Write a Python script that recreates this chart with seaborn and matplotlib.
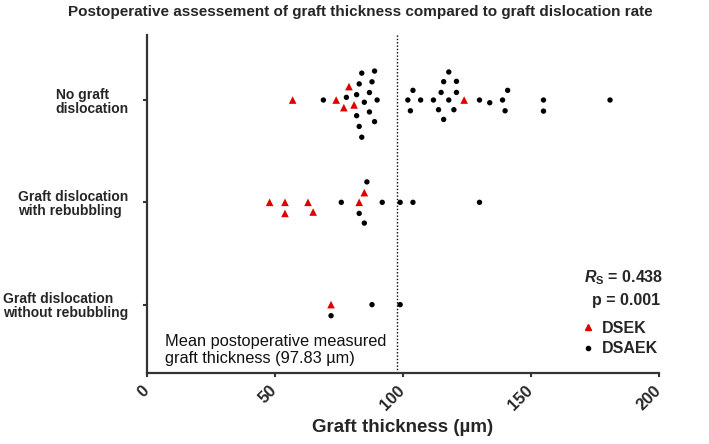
import matplotlib
matplotlib.use('Agg')
import matplotlib.pyplot as plt
import seaborn as sns
import numpy as np
import pandas as pd
from matplotlib.lines import Line2D
from matplotlib.markers import MarkerStyle

sns.set_theme(style='ticks')
plt.rcParams['font.family'] = ['Liberation Sans', 'DejaVu Sans']
plt.rcParams['mathtext.fontset'] = 'custom'
plt.rcParams['mathtext.it'] = 'Liberation Sans:italic:bold'
plt.rcParams['mathtext.rm'] = 'Liberation Sans:bold'

# data (graft thickness in um)
groups = ['No graft\ndislocation',
          'Graft dislocation\nwith rebubbling',
          'Graft dislocation\nwithout rebubbling']
no_disloc_dsek = [57, 74, 77, 79, 81, 124]
no_disloc_dsaek = [69, 78, 82, 82, 83, 83, 84, 84, 85, 87, 87, 88, 89, 89, 90,
                   102, 103, 104, 107, 112, 114, 115, 116, 116, 118, 118, 120,
                   121, 121, 130, 134, 139, 140, 141, 155, 155, 181]
rebub_dsek = [48, 54, 54, 63, 65, 83, 85]
rebub_dsaek = [76, 83, 85, 86, 92, 99, 104, 130]
norebub_dsek = [72]
norebub_dsaek = [72, 88, 99]
mean_thickness = 97.83
rs_value = 0.438
p_value = 0.001
x_ticks = [0, 50, 100, 150, 200]

colors = {'DSEK': '#e00000', 'DSAEK': 'black'}

rows = []
for grp, dsek, dsaek in zip(groups,
                            [no_disloc_dsek, rebub_dsek, norebub_dsek],
                            [no_disloc_dsaek, rebub_dsaek, norebub_dsaek]):
    rows += [(grp, 'DSEK', v) for v in dsek]
    rows += [(grp, 'DSAEK', v) for v in dsaek]
df = pd.DataFrame(rows, columns=['group', 'type', 'thickness'])

fig = plt.figure(figsize=(7.09, 4.44), dpi=100)
ax = fig.add_axes([0.207, 0.160, 0.722, 0.761])

# swarm with a wider spacing than the final marker size
sns.swarmplot(data=df, x='thickness', y='group', hue='type', order=groups,
              palette=colors, size=7.6, linewidth=0, legend=False, ax=ax)
ax.set_xlim(0, 200)
ax.set_ylim(2.668, -0.635)
fig.canvas.draw()

# freeze the swarm positions, then shrink markers and use triangles for DSEK
tri = MarkerStyle('^')
tri_path = tri.get_path().transformed(tri.get_transform())
dot = MarkerStyle('o')
dot_path = dot.get_path().transformed(dot.get_transform())
for coll in ax.collections:
    if 'draw' in coll.__dict__:
        del coll.draw
    is_tri = coll.get_facecolors()[:, 0] > 0.5
    coll.set_paths([tri_path if t else dot_path for t in is_tri])
    coll.set_sizes(np.where(is_tri, 30, 15))

ax.axvline(mean_thickness, color='black', linestyle=(0, (1, 1.4)), linewidth=1.0)

sns.despine(ax=ax)
for side in ['left', 'bottom']:
    ax.spines[side].set_linewidth(1.6)
    ax.spines[side].set_color('#333333')
ax.tick_params(axis='both', direction='out', length=3, width=1.5, color='#333333')
ax.tick_params(axis='y', pad=10)
ax.tick_params(axis='x', pad=8)

ax.set_xticks(x_ticks)
ax.set_xticklabels([str(t) for t in x_ticks], rotation=45, ha='right', va='center',
                   rotation_mode='anchor', fontsize=12, fontweight='bold')
ax.set_yticks(range(len(groups)))
ax.set_yticklabels(groups, fontsize=10, fontweight='bold',
                   multialignment='left', linespacing=1.0)

ax.set_ylabel('')
ax.set_xlabel('Graft thickness (µm)', fontsize=13.5, fontweight='bold')
ax.xaxis.label.set_va('center')
ax.xaxis.set_label_coords(0.5, -0.16)

ax.text(7, 2.443, f'Mean postoperative measured\ngraft thickness ({mean_thickness} µm)',
        fontsize=11.8, ha='left', va='center', color='#111111')

fig.text(0.508, 0.972,
         'Postoperative assessement of graft thickness compared to graft dislocation rate',
         ha='center', va='center', fontsize=11, fontweight='bold')

fig.text(0.879, 0.374, rf'$R_{{\mathrm{{S}}}}$ = {rs_value}', ha='center', va='center',
         fontsize=11.5, fontweight='bold')
fig.text(0.883, 0.324, f'p = {p_value:.3f}', ha='center', va='center',
         fontsize=11.5, fontweight='bold')

handles = [Line2D([], [], marker='^', color=colors['DSEK'], linestyle='', markersize=4),
           Line2D([], [], marker='o', color=colors['DSAEK'], linestyle='', markersize=3)]
fig.legend(handles, ['DSEK', 'DSAEK'], loc='center left',
           bbox_to_anchor=(580 / 709, 1 - 338.5 / 444), frameon=False,
           prop={'size': 11.5, 'weight': 'bold'}, handlelength=1.0,
           handletextpad=0.4, labelspacing=0.35, borderpad=0, borderaxespad=0)

fig.savefig('out.png', dpi=100)
